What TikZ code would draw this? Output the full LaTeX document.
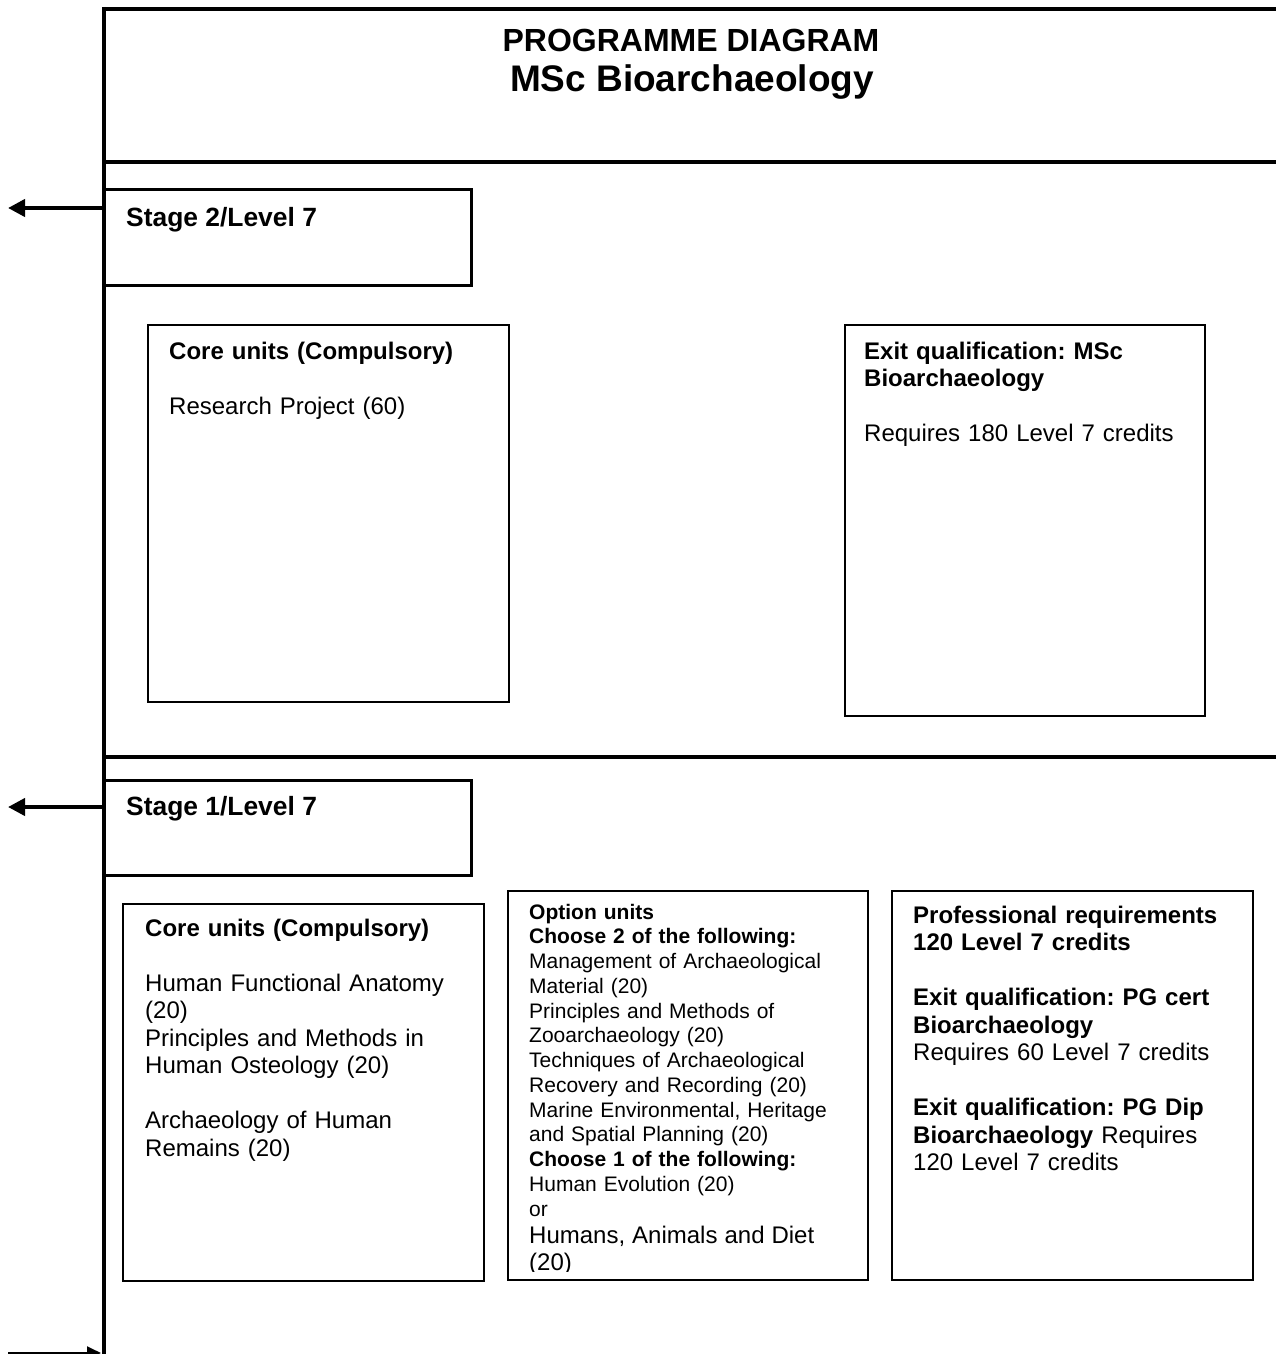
\documentclass[tikz,border=0pt]{standalone}
\usepackage{fontspec}
\setmainfont{Liberation Sans}
\usetikzlibrary{arrows.meta}
\frenchspacing
\begin{document}
\begin{tikzpicture}[x=1pt,y=-1pt,
  frameline/.style={line width=4pt},
  stagebox/.style={draw, line width=3pt, rectangle, inner sep=0pt, outer sep=0pt, anchor=north west},
  unitbox/.style={draw, line width=1.8pt, rectangle, inner sep=0pt, outer sep=0pt, anchor=north west},
  stagetxt/.style={anchor=base west, inner sep=0pt, font=\fontsize{26.4}{30}\selectfont\bfseries},
  bodytxt/.style={anchor=base west, inner sep=0pt, text width=340pt, align=left, font=\fontsize{24}{27.5}\selectfont},
  smalltxt/.style={anchor=base west, inner sep=0pt, text width=340pt, align=left, font=\fontsize{21}{24.75}\selectfont},
  exitarrow/.style={line width=4pt, -{Triangle[length=17pt,width=17pt]}},
  endarrow/.style={line width=2pt, -{Triangle[length=14pt,width=13pt]}}]
\useasboundingbox (0,0) rectangle (1275,1354);

% outer frame and stage separators
\draw[frameline] (102,9) -- (1280,9);
\draw[frameline] (104,7) -- (104,1358);
\draw[frameline] (104,162) -- (1280,162);
\draw[frameline] (104,757) -- (1280,757);
\draw[frameline] (104,1355.5) -- (1280,1355.5);

% title
\node[anchor=base, inner sep=0pt, font=\fontsize{32}{36}\selectfont\bfseries] (title1) at (691,52) {PROGRAMME DIAGRAM};
\node[anchor=base, inner sep=0pt, font=\fontsize{37}{40}\selectfont\bfseries] (title2) at (692,91) {MSc Bioarchaeology};

% stage 2
\node[stagebox, minimum width=367pt, minimum height=96pt] (stage2) at (104,189) {};
\node[stagetxt] (stage2t) at (126,226) {Stage 2/Level 7};
\coordinate (s2from) at (104,208);
\coordinate (s2exit) at (8,208);
\draw[exitarrow] (s2from) -- (s2exit);

\node[unitbox, minimum width=361pt, minimum height=377pt] (core2) at (148,325) {};
\node[bodytxt] (core2t) at (169,359) {\textbf{Core units (Compulsory)}\\[27.5pt]
Research Project (60)};

\node[unitbox, minimum width=360pt, minimum height=391pt] (exit2) at (845,325) {};
\node[bodytxt] (exit2t) at (864,359) {\textbf{Exit qualification: MSc}\\
\textbf{Bioarchaeology}\\[27pt]
Requires 180 Level 7 credits};

% stage 1
\node[stagebox, minimum width=367pt, minimum height=95pt] (stage1) at (104,780) {};
\node[stagetxt] (stage1t) at (126,815) {Stage 1/Level 7};
\coordinate (s1from) at (104,807);
\coordinate (s1exit) at (8,807);
\draw[exitarrow] (s1from) -- (s1exit);

\node[unitbox, minimum width=361pt, minimum height=377pt] (core1) at (123,904) {};
\node[bodytxt] (core1t) at (145,936) {\textbf{Core units (Compulsory)}\\[27.5pt]
Human Functional Anatomy\\
(20)\\
Principles and Methods in\\
Human Osteology (20)\\[27.5pt]
Archaeology of Human\\
Remains (20)};

\node[unitbox, minimum width=360pt, minimum height=389pt] (opt1) at (508,891) {};
\begin{scope}
  \clip (510,893) rectangle (866,1271);
  \node[smalltxt] (opt1t) at (529,919) {\textbf{Option units}\\
  \textbf{Choose 2 of the following:}\\
  Management of Archaeological\\
  Material (20)\\
  Principles and Methods of\\
  Zooarchaeology (20)\\
  Techniques of Archaeological\\
  Recovery and Recording (20)\\
  Marine Environmental, Heritage\\
  and Spatial Planning (20)\\
  \textbf{Choose 1 of the following:}\\
  Human Evolution (20)\\
  or\par
  \fontsize{24}{27}\selectfont Humans, Animals and Diet\\
  (20)\par};
\end{scope}

\node[unitbox, minimum width=361pt, minimum height=389pt] (prof1) at (892,891) {};
\node[bodytxt] (prof1t) at (913,923) {\textbf{Professional requirements}\\
\textbf{120 Level 7 credits}\\[27.6pt]
\textbf{Exit qualification: PG cert}\\
\textbf{Bioarchaeology}\\
Requires 60 Level 7 credits\\[27.6pt]
\textbf{Exit qualification: PG Dip}\\
\textbf{Bioarchaeology} Requires\\
120 Level 7 credits};

% entry arrow along the bottom edge
\coordinate (entry0) at (8,1353);
\coordinate (entry1) at (101,1353);
\draw[endarrow] (entry0) -- (entry1);
\end{tikzpicture}
\end{document}
